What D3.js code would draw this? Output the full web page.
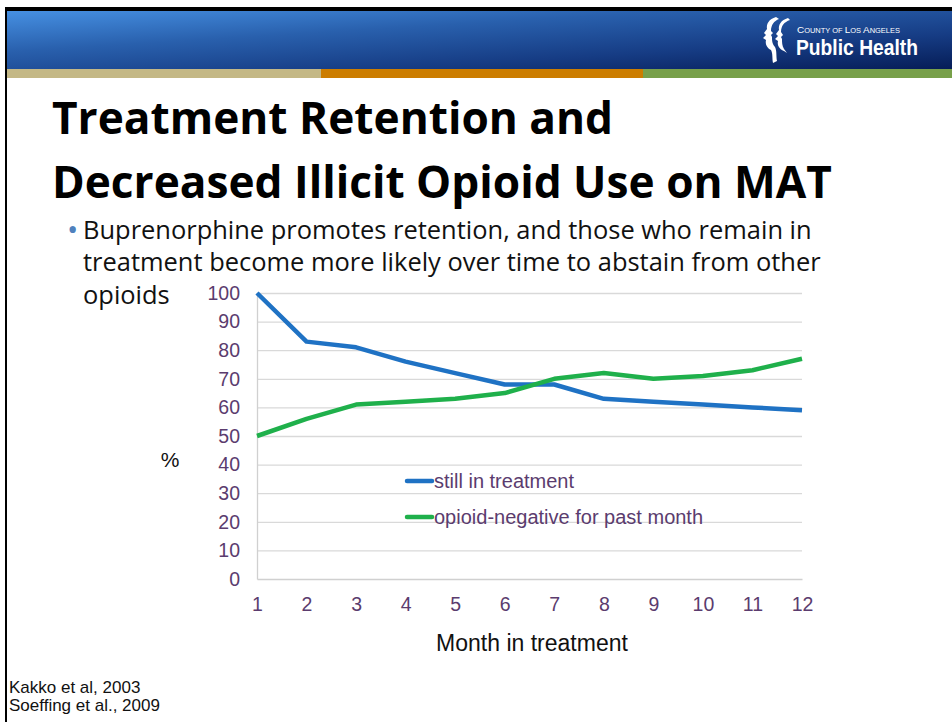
<!DOCTYPE html>
<html>
<head>
<meta charset="utf-8">
<script src="https://cdn.jsdelivr.net/npm/d3@7"></script>
<style>
  html, body { margin: 0; padding: 0; background: #fff; }
  svg { display: block; }
</style>
</head>
<body>
<svg id="slide" width="952" height="722"></svg>
<script>
// Monthly retention and opioid-negative rates (%)
const months = [1, 2, 3, 4, 5, 6, 7, 8, 9, 10, 11, 12];
const stillInTreatment = [100, 83, 81, 76, 72, 68, 68, 63, 62, 61, 60, 59];
const opioidNegative = [50, 56, 61, 62, 63, 65, 70, 72, 70, 71, 73, 77];
const seriesNames = ["still in treatment", "opioid-negative for past month"];
const yTicks = [0, 10, 20, 30, 40, 50, 60, 70, 80, 90, 100];

const svg = d3.select("#slide");
const W = 952, H = 722;

// ---- slide frame and header ----
const defs = svg.append("defs");
const grad = defs.append("linearGradient").attr("id", "hdr")
  .attr("x1", "0%").attr("y1", "0%").attr("x2", "100%").attr("y2", "100%");
grad.append("stop").attr("offset", "0%").attr("stop-color", "#4690e2");
grad.append("stop").attr("offset", "35%").attr("stop-color", "#2960ad");
grad.append("stop").attr("offset", "70%").attr("stop-color", "#163c84");
grad.append("stop").attr("offset", "100%").attr("stop-color", "#061d57");

svg.append("rect").attr("x", 5).attr("y", 7).attr("width", W - 5).attr("height", 4).attr("fill", "#000");
svg.append("rect").attr("x", 5).attr("y", 7).attr("width", 2).attr("height", H - 7).attr("fill", "#000");
svg.append("rect").attr("x", 7).attr("y", 11).attr("width", W - 7).attr("height", 58).attr("fill", "url(#hdr)");

const stripes = [
  { x0: 7, x1: 321, c: "#c4b886" },
  { x0: 321, x1: 643, c: "#cc7d00" },
  { x0: 643, x1: W, c: "#78a04a" }
];
svg.selectAll("rect.stripe").data(stripes).enter().append("rect")
  .attr("class", "stripe")
  .attr("x", d => d.x0).attr("y", 69).attr("width", d => d.x1 - d.x0).attr("height", 9)
  .attr("fill", d => d.c);

// logo: two profile silhouettes and wordmark
const logo = svg.append("g");
logo.append("path")
  .attr("d", "M 776 17 C 769 19, 766 24, 767 29 L 764 33 L 766 35 L 763 38 L 766 40 C 765 44, 767 48, 771 50 C 773 54, 772 58, 773 63 L 777 61 C 776 56, 777 51, 775 47 C 772 44, 772 40, 772 37 L 771 35 L 773 33 L 771 31 C 771 25, 774 21, 779 19 Z")
  .attr("fill", "#fff");
logo.append("path")
  .attr("d", "M 788 18 C 781 20, 778 25, 779 30 L 776 34 L 778 36 L 775 39 L 778 41 C 777 45, 779 49, 784 51 L 787 53 L 784 49 C 782 46, 782 42, 782 39 L 781 37 L 783 35 L 781 32 C 781 26, 784 22, 790 20 Z")
  .attr("fill", "#fff");
const logoFont = "'Liberation Sans Narrow', 'Liberation Sans', Arial, sans-serif";
const countyParts = [["C", 10], ["OUNTY OF ", 7.5], ["L", 10], ["OS ", 7.5], ["A", 10], ["NGELES", 7.5]];
const county = logo.append("text")
  .attr("x", 797).attr("y", 33)
  .attr("font-family", logoFont).attr("fill", "#fff");
const countySpans = countyParts.map(([s, fs]) => county.append("tspan").attr("font-size", fs).text(s));
// scale the wordmark line to its span
const cw = county.node().getComputedTextLength();
const k = 103 / cw;
countySpans.forEach((sp, i) => sp.attr("font-size", countyParts[i][1] * k));
logo.append("text")
  .attr("x", 796).attr("y", 55)
  .attr("font-family", logoFont)
  .attr("font-weight", "bold")
  .attr("font-size", 22).attr("fill", "#fff")
  .attr("textLength", 122).attr("lengthAdjust", "spacingAndGlyphs")
  .text("Public Health");

// ---- title ----
const titleFont = "'Open Sans', 'Noto Sans', sans-serif";
const titleLines = ["Treatment Retention and", "Decreased Illicit Opioid Use on MAT"];
const titleG = svg.append("g");
const t2 = titleG.append("text").attr("x", 52).attr("y", 198)
  .attr("font-family", titleFont).attr("font-weight", "bold").attr("font-size", 40)
  .attr("fill", "#000").text(titleLines[1]);
// fit second line to its span
const len2 = t2.node().getComputedTextLength();
const titleSize = 40 * 780 / len2;
t2.attr("font-size", titleSize);
titleG.append("text").attr("x", 52).attr("y", 134)
  .attr("font-family", titleFont).attr("font-weight", "bold").attr("font-size", titleSize)
  .attr("fill", "#000").text(titleLines[0]);

// ---- bullet text ----
const bodyFont = "'Open Sans', 'Noto Sans', sans-serif";
svg.append("text").attr("x", 67).attr("y", 240)
  .attr("font-family", bodyFont).attr("font-size", 30).attr("fill", "#4f81bd").text("•");
const bodyLines = [
  "Buprenorphine promotes retention, and those who remain in",
  "treatment become more likely over time to abstain from other",
  "opioids"
];
const bodyY = [239, 271, 304];
const bl = svg.selectAll("text.body").data(bodyLines).enter().append("text")
  .attr("class", "body")
  .attr("x", 83).attr("y", (d, i) => bodyY[i])
  .attr("font-family", bodyFont).attr("font-size", 22).attr("fill", "#111")
  .text(d => d);
const bl0 = bl.nodes()[0].getComputedTextLength();
const bodySize = 22 * 729 / bl0;
bl.attr("font-size", bodySize);

// ---- chart ----
const chartFont = "'Liberation Sans', Arial, sans-serif";
const x = d3.scaleLinear().domain([1, 12]).range([257, 802]);
const y = d3.scaleLinear().domain([0, 100]).range([579, 293]);
const tickColor = "#5b3c6e";
const tickSize = 19.5;

const chart = svg.append("g");

// gridlines
chart.append("g")
  .attr("transform", `translate(${x(1)},0)`)
  .call(d3.axisLeft(y).tickValues(yTicks.filter(v => v > 0)).tickSize(-(x(12) - x(1))).tickFormat(""))
  .call(g => g.select(".domain").remove())
  .call(g => g.selectAll("line").attr("stroke", "#d9d9d9").attr("stroke-width", 1.3));

// y tick labels
chart.append("g")
  .attr("transform", `translate(${x(1)},0)`)
  .call(d3.axisLeft(y).tickValues(yTicks).tickSize(0).tickPadding(17))
  .call(g => g.select(".domain").attr("stroke", "#d0d0d0").attr("stroke-width", 1.3))
  .call(g => g.selectAll("text").attr("font-family", chartFont).attr("font-size", tickSize).attr("fill", tickColor));

// x axis
chart.append("g")
  .attr("transform", `translate(0,${y(0)})`)
  .call(d3.axisBottom(x).tickValues(months).tickSize(0).tickPadding(18).tickFormat(d3.format("d")))
  .call(g => g.select(".domain").attr("stroke", "#d0d0d0").attr("stroke-width", 1.3))
  .call(g => g.selectAll("text").attr("font-family", chartFont).attr("font-size", tickSize).attr("fill", tickColor));

// axis titles
chart.append("text").attr("x", 170).attr("y", 467).attr("text-anchor", "middle")
  .attr("font-family", chartFont).attr("font-size", 21).attr("fill", "#111").text("%");
chart.append("text").attr("x", 532).attr("y", 651).attr("text-anchor", "middle")
  .attr("font-family", chartFont).attr("font-size", 23).attr("fill", "#111").text("Month in treatment");

// series lines
const colors = ["#1f72c4", "#1fb04b"];
const line = d3.line().x((d, i) => x(months[i])).y(d => y(d));
[stillInTreatment, opioidNegative].forEach((vals, s) => {
  chart.append("path").datum(vals)
    .attr("d", line).attr("fill", "none")
    .attr("stroke", colors[s]).attr("stroke-width", 4.5)
    .attr("stroke-linejoin", "round");
});

// legend
const legendY = [481, 517];
seriesNames.forEach((name, s) => {
  chart.append("line").attr("x1", 407).attr("x2", 432)
    .attr("y1", legendY[s]).attr("y2", legendY[s])
    .attr("stroke", colors[s]).attr("stroke-width", 4.5).attr("stroke-linecap", "round");
  chart.append("text").attr("x", 434).attr("y", legendY[s] + 7)
    .attr("font-family", chartFont).attr("font-size", 20).attr("fill", tickColor).text(name);
});

// ---- references ----
const refs = ["Kakko et al, 2003", "Soeffing et al., 2009"];
svg.selectAll("text.ref").data(refs).enter().append("text")
  .attr("class", "ref").attr("x", 9).attr("y", (d, i) => 693 + i * 18)
  .attr("font-family", chartFont).attr("font-size", 17).attr("fill", "#111")
  .text(d => d);
</script>
</body>
</html>
